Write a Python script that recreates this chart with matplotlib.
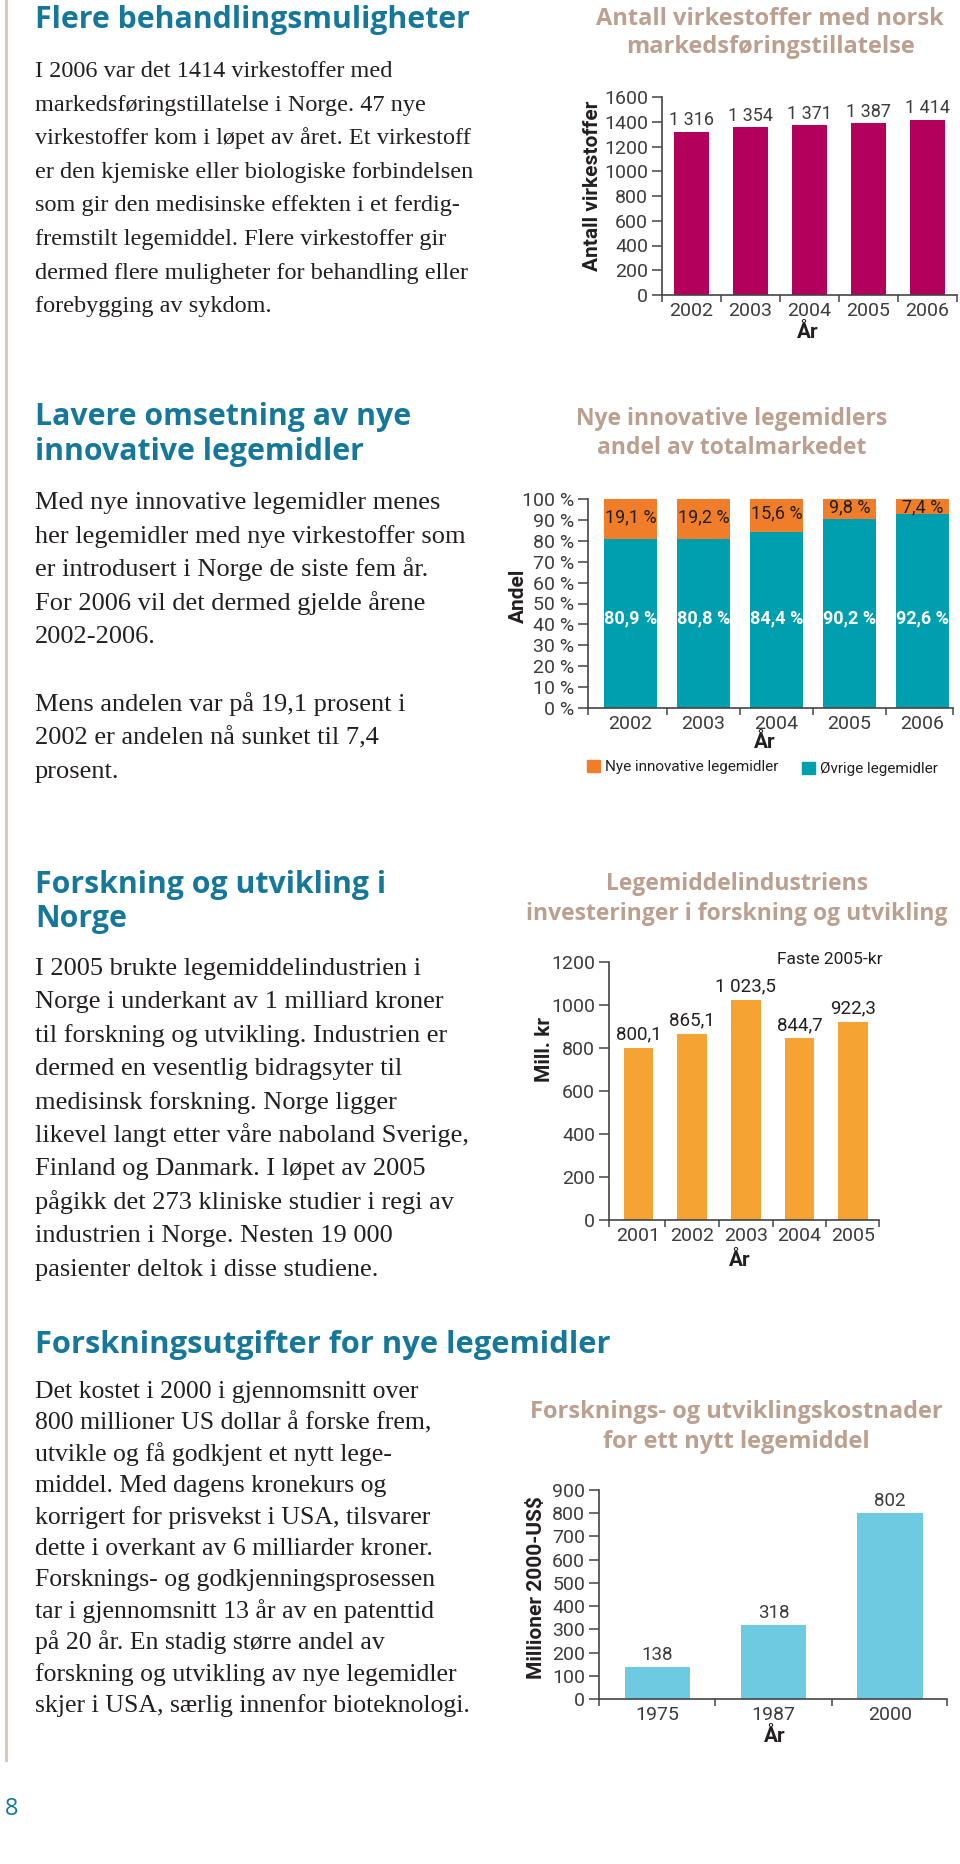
import matplotlib
matplotlib.use("Agg")
import matplotlib.pyplot as plt
from matplotlib import font_manager as fm
from matplotlib.patches import Rectangle
from matplotlib.lines import Line2D


def pick(*names):
    for n in names:
        try:
            fm.findfont(fm.FontProperties(family=n), fallback_to_default=False)
            return n
        except ValueError:
            pass
    return "DejaVu Sans"


SANS = pick("Open Sans", "Noto Sans", "DejaVu Sans")
NARROW = pick("Liberation Sans Narrow", "Roboto", "Liberation Sans")
SERIF = pick("Liberation Serif", "DejaVu Serif")

# --- data ---------------------------------------------------------------
years_vs = ["2002", "2003", "2004", "2005", "2006"]
virkestoffer = [1316, 1354, 1371, 1387, 1414]

years_andel = ["2002", "2003", "2004", "2005", "2006"]
andel_nye = [19.1, 19.2, 15.6, 9.8, 7.4]
andel_ovrige = [80.9, 80.8, 84.4, 90.2, 92.6]

years_fou = ["2001", "2002", "2003", "2004", "2005"]
fou_mill_kr = [800.1, 865.1, 1023.5, 844.7, 922.3]

years_kost = ["1975", "1987", "2000"]
kost_mill_usd = [138, 318, 802]

# --- colours -------------------------------------------------------------
HEAD = "#15789b"
CTITLE = "#bba08f"
TXT = "#231f20"
TICK = "#3c3c3c"
MAGENTA = "#b2005c"
ORANGE = "#f07d2a"
TEAL = "#009fb0"
AMBER = "#f5a433"
LIGHTBLUE = "#6dcae0"

W, H = 960, 1864
fig = plt.figure(figsize=(W / 100, H / 100), dpi=100)


def fx(x):
    return x / W


def fy(y):
    return 1 - y / H


def text(x, y, s, **kw):
    kw.setdefault("va", "baseline")
    fig.text(fx(x), fy(y), s, **kw)


def add_ax(l, t, r, b):
    return fig.add_axes([fx(l), fy(b), (r - l) / W, (b - t) / H])


def no_num(v, dec=0):
    return f"{v:,.{dec}f}".replace(",", " ").replace(".", ",")


def heading(x, ys, lines, size=21.8):
    for y, s in zip(ys, lines):
        text(x, y, s, fontsize=size, fontweight="bold", color=HEAD, family=SANS)


def body(x, y0, step, lines, size=18.5):
    for i, s in enumerate(lines):
        if s:
            text(x, y0 + i * step, s, fontsize=size, color=TXT, family=SERIF)


def chart_title(xc, ys, lines, size=17):
    for y, s in zip(ys, lines):
        text(xc, y, s, fontsize=size, fontweight="bold", color=CTITLE,
             family=SANS, ha="center")


def style_ax(ax, xlim, ylim, yticks, ticklabels, xlabels, bounds, tsize=14):
    ax.set_xlim(*xlim)
    ax.set_ylim(*ylim)
    for s in ["top", "right"]:
        ax.spines[s].set_visible(False)
    for s in ["left", "bottom"]:
        ax.spines[s].set_color("#444444")
        ax.spines[s].set_linewidth(1.2)
    ax.set_yticks(yticks)
    ax.set_yticklabels(ticklabels, family=NARROW, fontsize=tsize, color=TICK)
    ax.tick_params(axis="y", length=7, width=1.1, color="#444444", pad=3)
    ax.set_xticks(range(len(xlabels)))
    ax.set_xticklabels(xlabels, family=NARROW, fontsize=tsize, color=TICK)
    ax.set_xticks(bounds, minor=True)
    ax.tick_params(axis="x", which="major", length=0, pad=5)
    ax.tick_params(axis="x", which="minor", length=5, width=1.1, color="#444444")
    ax.patch.set_alpha(0)


def axis_label(x, y, s, rot=0):
    text(x, y, s, rotation=rot, fontsize=15, fontweight="bold", family=NARROW,
         color=TXT, ha="center", va="center")


# left rule and page number
fig.add_artist(Line2D([fx(6), fx(6)], [fy(0), fy(1760)], color="#cfc6bf", lw=2))
text(12, 1815, "8", fontsize=17, color=HEAD, family=SANS, ha="center")

# --- section 1 ---------------------------------------------------------
heading(35, [28], ["Flere behandlingsmuligheter"])
body(35, 77, 33.6, [
    "I 2006 var det 1414 virkestoffer med",
    "markedsføringstillatelse i Norge. 47 nye",
    "virkestoffer kom i løpet av året. Et virkestoff",
    "er den kjemiske eller biologiske forbindelsen",
    "som gir den medisinske effekten i et ferdig-",
    "fremstilt legemiddel. Flere virkestoffer gir",
    "dermed flere muligheter for behandling eller",
    "forebygging av sykdom.",
], size=17.5)

chart_title(770, [25, 53], ["Antall virkestoffer med norsk", "markedsføringstillatelse"])
ax1 = add_ax(662, 97, 957, 295)
x1 = range(len(years_vs))
ax1.bar(x1, virkestoffer, width=0.58, color=MAGENTA)
style_ax(ax1, (-0.5, 4.5), (0, 1600), range(0, 1601, 200),
         [str(v) for v in range(0, 1601, 200)], years_vs,
         [-0.5, 0.5, 1.5, 2.5, 3.5, 4.5])
for i, v in zip(x1, virkestoffer):
    ax1.annotate(no_num(v), (i, v), xytext=(0, 2), textcoords="offset points",
                 ha="center", va="bottom", fontsize=13, color=TICK, family=NARROW)
axis_label(593, 186, "Antall virkestoffer", rot=90)
axis_label(808, 333, "År")

# --- section 2 ---------------------------------------------------------
heading(35, [425, 460], ["Lavere omsetning av nye", "innovative legemidler"])
body(35, 509, 33.6, [
    "Med nye innovative legemidler menes",
    "her legemidler med nye virkestoffer som",
    "er introdusert i Norge de siste fem år.",
    "For 2006 vil det dermed gjelde årene",
    "2002-2006.",
    "",
    "Mens andelen var på 19,1 prosent i",
    "2002 er andelen nå sunket til 7,4",
    "prosent.",
], size=19)

chart_title(732, [425, 454], ["Nye innovative legemidlers", "andel av totalmarkedet"],
            size=16.5)
ax2 = add_ax(588, 499, 953, 708)
x2 = range(len(years_andel))
ax2.bar(x2, andel_ovrige, width=0.72, color=TEAL)
ax2.bar(x2, andel_nye, bottom=andel_ovrige, width=0.72, color=ORANGE)
style_ax(ax2, (-0.58, 4.42), (0, 100), range(0, 101, 10),
         [f"{v} %" for v in range(0, 101, 10)], years_andel,
         [-0.58, 0.5, 1.5, 2.5, 3.5, 4.42])
for i, a, b in zip(x2, andel_nye, andel_ovrige):
    ax2.text(i, min(b + a / 2 + 1, 96.2), no_num(a, 1) + " %", ha="center",
             va="center", fontsize=13, color=TXT, family=NARROW)
    ax2.text(i, 43, no_num(b, 1) + " %", ha="center", va="center",
             fontsize=13, fontweight="bold", color="white", family=NARROW)
axis_label(518, 596, "Andel", rot=90)
axis_label(765, 742, "År")
fig.add_artist(Rectangle((fx(587), fy(772)), 13 / W, 12 / H, color=ORANGE,
                         transform=fig.transFigure))
text(605, 771, "Nye innovative legemidler", fontsize=11, family=NARROW, color=TXT)
fig.add_artist(Rectangle((fx(802), fy(774)), 13 / W, 12 / H, color=TEAL,
                         transform=fig.transFigure))
text(820, 773, "Øvrige legemidler", fontsize=11, family=NARROW, color=TXT)

# --- section 3 ---------------------------------------------------------
heading(35, [893, 927], ["Forskning og utvikling i", "Norge"])
body(35, 975, 33.4, [
    "I 2005 brukte legemiddelindustrien i",
    "Norge i underkant av 1 milliard kroner",
    "til forskning og utvikling. Industrien er",
    "dermed en vesentlig bidragsyter til",
    "medisinsk forskning. Norge ligger",
    "likevel langt etter våre naboland Sverige,",
    "Finland og Danmark. I løpet av 2005",
    "pågikk det 273 kliniske studier i regi av",
    "industrien i Norge. Nesten 19 000",
    "pasienter deltok i disse studiene.",
], size=19)

chart_title(737, [890, 920], ["Legemiddelindustriens",
                              "investeringer i forskning og utvikling"], size=16.5)
ax3 = add_ax(609, 962, 879, 1220)
x3 = range(len(years_fou))
ax3.bar(x3, fou_mill_kr, width=0.55, color=AMBER)
style_ax(ax3, (-0.55, 4.48), (0, 1200), range(0, 1201, 200),
         [str(v) for v in range(0, 1201, 200)], years_fou,
         [-0.55, 0.5, 1.5, 2.5, 3.5, 4.48], tsize=14)
for i, v in zip(x3, fou_mill_kr):
    ax3.annotate(no_num(v, 1), (i, v), xytext=(0, 3), textcoords="offset points",
                 ha="center", va="bottom", fontsize=13.5, color=TXT, family=NARROW)
text(830, 960, "Faste 2005-kr", fontsize=12.5, family=NARROW, color=TXT,
     ha="center", va="center")
axis_label(544, 1049, "Mill. kr", rot=90)
axis_label(740, 1260, "År")

# --- section 4 ---------------------------------------------------------
heading(35, [1353], ["Forskningsutgifter for nye legemidler"], size=22.2)
body(35, 1398, 31.4, [
    "Det kostet i 2000 i gjennomsnitt over",
    "800 millioner US dollar å forske frem,",
    "utvikle og få godkjent et nytt lege-",
    "middel. Med dagens kronekurs og",
    "korrigert for prisvekst i USA, tilsvarer",
    "dette i overkant av 6 milliarder kroner.",
    "Forsknings- og godkjenningsprosessen",
    "tar i gjennomsnitt 13 år av en patenttid",
    "på 20 år. En stadig større andel av",
    "forskning og utvikling av nye legemidler",
    "skjer i USA, særlig innenfor bioteknologi.",
])

chart_title(736, [1418, 1448], ["Forsknings- og utviklingskostnader",
                                "for ett nytt legemiddel"])
ax4 = add_ax(599, 1490, 947, 1699)
x4 = range(len(years_kost))
ax4.bar(x4, kost_mill_usd, width=0.56, color=LIGHTBLUE)
style_ax(ax4, (-0.5, 2.49), (0, 900), range(0, 901, 100),
         [str(v) for v in range(0, 901, 100)], years_kost,
         [-0.5, 0.5, 1.5, 2.49], tsize=14)
for i, v in zip(x4, kost_mill_usd):
    ax4.annotate(no_num(v), (i, v), xytext=(0, 2), textcoords="offset points",
                 ha="center", va="bottom", fontsize=13.5, color=TICK, family=NARROW)
axis_label(537, 1588, "Millioner 2000-US$", rot=90)
axis_label(775, 1737, "År")

fig.savefig("out.png", dpi=100, facecolor="white")
